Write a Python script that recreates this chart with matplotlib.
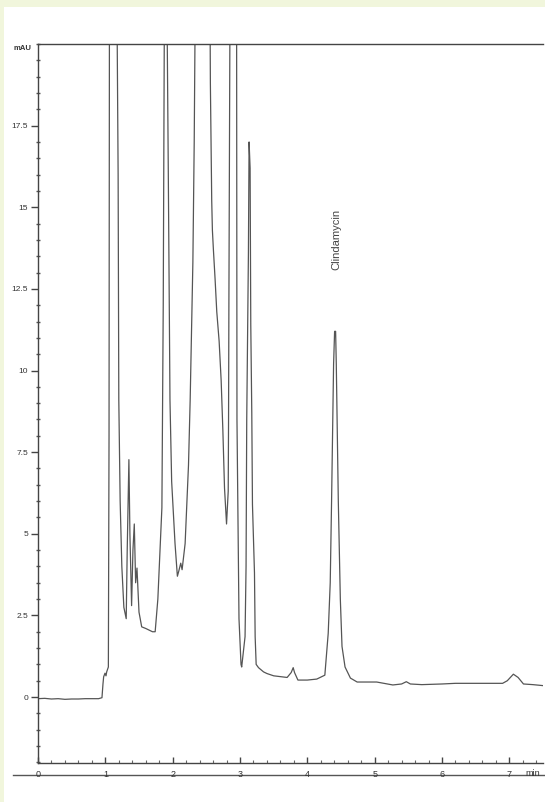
import matplotlib
matplotlib.use('Agg')
import matplotlib.pyplot as plt
from matplotlib.patches import Rectangle
from matplotlib.lines import Line2D
from matplotlib.ticker import MultipleLocator

plt.rcParams['font.family'] = ['Liberation Sans', 'DejaVu Sans']

# chromatogram trace (min, mAU); values > 20 are off-scale apexes
time_min = [0.00, 0.10, 0.20, 0.30, 0.40, 0.50, 0.60, 0.70, 0.80, 0.90, 0.95,
            0.965, 0.975, 0.995, 1.01, 1.02, 1.045, 1.055, 1.06, 1.09, 1.17,
            1.19, 1.20, 1.22, 1.245, 1.275, 1.31, 1.325, 1.35, 1.365, 1.39,
            1.41, 1.43, 1.45, 1.47, 1.50, 1.54, 1.60, 1.70, 1.74, 1.78, 1.84,
            1.86, 1.875, 1.89, 1.92, 1.935, 1.96, 1.985, 2.035, 2.07, 2.09,
            2.12, 2.14, 2.185, 2.235, 2.26, 2.30, 2.32, 2.335, 2.44, 2.555,
            2.56, 2.575, 2.58, 2.59, 2.605, 2.63, 2.655, 2.69, 2.72, 2.745,
            2.77, 2.80, 2.825, 2.83, 2.835, 2.85, 2.90, 2.95, 2.955, 2.97,
            2.985, 3.015, 3.025, 3.075, 3.09, 3.10, 3.125, 3.135, 3.15, 3.16,
            3.175, 3.185, 3.215, 3.225, 3.24, 3.275, 3.35, 3.40, 3.50, 3.70,
            3.76, 3.79, 3.81, 3.86, 4.00, 4.14, 4.26, 4.31, 4.34, 4.36, 4.39,
            4.405, 4.42, 4.43, 4.46, 4.49, 4.515, 4.56, 4.64, 4.74, 5.03, 5.27,
            5.40, 5.47, 5.53, 5.70, 6.00, 6.20, 6.60, 6.90, 6.97, 7.06, 7.13,
            7.21, 7.35, 7.50]
signal_mau = [-0.05, -0.04, -0.06, -0.05, -0.07, -0.06, -0.06, -0.05, -0.05, -0.05, -0.02,
              0.40, 0.62, 0.73, 0.65, 0.77, 0.92, 8.0, 20.0, 60.0, 22.0,
              16.0, 9.1, 6.0, 4.0, 2.75, 2.4, 4.5, 7.27, 5.0, 2.8,
              4.5, 5.3, 3.5, 3.95, 2.6, 2.15, 2.1, 2.0, 2.0, 3.0, 5.8,
              12.0, 20.0, 45.0, 20.0, 16.1, 9.1, 6.6, 4.7, 3.7, 3.85,
              4.1, 3.9, 4.7, 7.1, 9.1, 13.3, 17.0, 21.0, 70.0, 21.0,
              18.8, 16.3, 15.2, 14.3, 13.7, 12.8, 11.8, 10.9, 9.7, 8.2,
              6.4, 5.3, 6.3, 8.5, 12.0, 20.0, 60.0, 20.0, 8.5, 5.3,
              2.4, 1.0, 0.92, 1.85, 4.0, 8.5, 13.6, 17.0, 16.2, 11.4,
              8.7, 5.9, 3.8, 1.85, 1.0, 0.9, 0.77, 0.72, 0.65, 0.60,
              0.75, 0.90, 0.75, 0.52, 0.52, 0.55, 0.67, 1.95, 3.5, 6.0, 10.2,
              11.2, 11.2, 10.2, 6.0, 3.0, 1.55, 0.92, 0.58, 0.46, 0.46, 0.37,
              0.40, 0.47, 0.40, 0.38, 0.40, 0.42, 0.42, 0.42, 0.50, 0.70, 0.60,
              0.40, 0.38, 0.35]

y_ticks = [0, 2.5, 5, 7.5, 10, 12.5, 15, 17.5]
y_labels = ['0', '2.5', '5', '7.5', '10', '12.5', '15', '17.5']
x_ticks = [0, 1, 2, 3, 4, 5, 6, 7]
x_labels = ['0', '1', '2', '3', '4', '5', '6', '7']

W, H = 545, 802
fig = plt.figure(figsize=(W / 100, H / 100), dpi=100)
fig.patch.set_facecolor('#f1f6dc')
# white panel behind everything
fig.patches.append(Rectangle((4 / W, 0), 1, 1 - 7 / H, transform=fig.transFigure,
                             facecolor='white', edgecolor='none', zorder=-10))

ax = fig.add_axes([38 / W, 1 - 763 / H, (543 - 38) / W, (763 - 44) / H])
ax.set_zorder(5)
ax.set_facecolor('none')
ax.plot(time_min, signal_mau, color='#555555', lw=0.9)

ax.set_xlim(0, 7.5)
ax.set_ylim(-2.02, 20.0)

ax.spines['right'].set_visible(False)
for s in ['left', 'bottom', 'top']:
    ax.spines[s].set_color('#444444')
    ax.spines[s].set_linewidth(1.0)

ax.set_yticks(y_ticks)
ax.set_yticklabels(y_labels)
ax.set_xticks(x_ticks)
ax.set_xticklabels(x_labels)
ax.yaxis.set_minor_locator(MultipleLocator(0.5))
ax.xaxis.set_minor_locator(MultipleLocator(0.2))
ax.tick_params(axis='y', which='major', direction='out', length=5, width=1,
               color='#444444', labelsize=6, labelcolor='#333333', pad=2)
ax.tick_params(axis='y', which='minor', direction='inout', length=2.5, width=1,
               color='#555555')
ax.tick_params(axis='x', which='major', direction='in', length=4, width=1,
               color='#444444', labelsize=6.5, labelcolor='#333333', pad=5)
ax.tick_params(axis='x', which='minor', direction='in', length=2, width=0.8,
               color='#666666')

ax.text(4.43, 14.0, 'Clindamycin', rotation=90, ha='center', va='center',
        fontsize=8, color='#444444')

fig.text(14 / W, 1 - 49 / H, 'mAU', fontsize=5.5, color='#333333',
         ha='left', va='center', fontweight='bold')
fig.text(533 / W, 1 - 773 / H, 'min', fontsize=6.5, color='#333333',
         ha='center', va='center')

# extra frame line under the time axis
fig.lines.append(Line2D([13 / W, 1], [1 - 775 / H, 1 - 775 / H],
                        transform=fig.transFigure, color='#555555', lw=1.0))

fig.savefig('out.png', dpi=100, facecolor=fig.get_facecolor())
